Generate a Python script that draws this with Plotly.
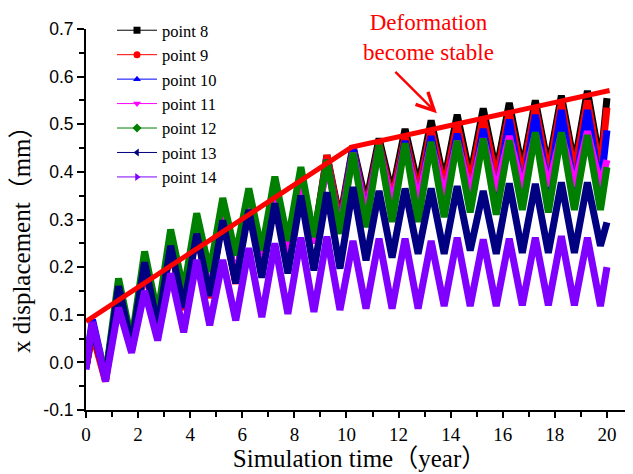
import plotly.graph_objects as go

# ---------------- data ----------------
TIME = [0, 0.25, 0.75, 1.25, 1.75, 2.25, 2.75, 3.25, 3.75, 4.25, 4.75,
        5.25, 5.75, 6.25, 6.75, 7.25, 7.75, 8.25, 8.75, 9.25, 9.75,
        10.25, 10.75, 11.25, 11.75, 12.25, 12.75, 13.25, 13.75, 14.25, 14.75,
        15.25, 15.75, 16.25, 16.75, 17.25, 17.75, 18.25, 18.75, 19.25, 19.75, 20]

POINT_8 = [-0.01, 0.065, -0.035, 0.15, 0.03, 0.20, 0.075, 0.245, 0.115, 0.28, 0.14,
           0.31, 0.17, 0.34, 0.185, 0.365, 0.22, 0.39, 0.26, 0.435, 0.30,
           0.455, 0.335, 0.47, 0.355, 0.49, 0.37, 0.508, 0.38, 0.52, 0.39,
           0.533, 0.40, 0.545, 0.405, 0.55, 0.41, 0.56, 0.415, 0.57, 0.415, 0.555]
POINT_9 = [-0.01, 0.06, -0.04, 0.15, 0.025, 0.205, 0.07, 0.245, 0.11, 0.28, 0.135,
           0.31, 0.165, 0.34, 0.18, 0.365, 0.21, 0.39, 0.25, 0.435, 0.29,
           0.45, 0.32, 0.46, 0.34, 0.475, 0.355, 0.49, 0.365, 0.50, 0.375,
           0.515, 0.385, 0.525, 0.39, 0.535, 0.395, 0.545, 0.40, 0.55, 0.40, 0.535]
POINT_10 = [0.0, 0.09, -0.03, 0.155, 0.035, 0.205, 0.08, 0.245, 0.12, 0.28, 0.14,
            0.31, 0.17, 0.335, 0.19, 0.36, 0.22, 0.385, 0.25, 0.425, 0.28,
            0.45, 0.31, 0.455, 0.325, 0.465, 0.335, 0.475, 0.34, 0.48, 0.345,
            0.49, 0.35, 0.51, 0.355, 0.52, 0.36, 0.53, 0.36, 0.53, 0.365, 0.487]
POINT_11 = [0.0, 0.08, -0.03, 0.155, 0.035, 0.205, 0.08, 0.245, 0.12, 0.28, 0.14,
            0.31, 0.17, 0.335, 0.19, 0.36, 0.22, 0.385, 0.25, 0.42, 0.28,
            0.44, 0.31, 0.45, 0.33, 0.455, 0.34, 0.46, 0.35, 0.465, 0.355,
            0.47, 0.36, 0.475, 0.365, 0.48, 0.37, 0.48, 0.37, 0.485, 0.37, 0.425]
POINT_12 = [0.0, 0.075, -0.03, 0.176, 0.045, 0.233, 0.10, 0.279, 0.15, 0.313, 0.19,
            0.345, 0.225, 0.365, 0.235, 0.39, 0.255, 0.41, 0.263, 0.425, 0.27,
            0.44, 0.284, 0.456, 0.295, 0.46, 0.295, 0.463, 0.305, 0.465, 0.315,
            0.47, 0.31, 0.466, 0.32, 0.483, 0.315, 0.483, 0.32, 0.477, 0.32, 0.41]
POINT_13 = [-0.01, 0.075, -0.035, 0.16, 0.035, 0.21, 0.075, 0.245, 0.115, 0.27, 0.14,
            0.298, 0.166, 0.32, 0.178, 0.334, 0.187, 0.35, 0.193, 0.357, 0.197,
            0.368, 0.214, 0.36, 0.22, 0.365, 0.228, 0.365, 0.228, 0.37, 0.235,
            0.36, 0.228, 0.376, 0.23, 0.375, 0.23, 0.378, 0.23, 0.378, 0.245, 0.294]
POINT_14 = [-0.015, 0.085, -0.04, 0.115, 0.02, 0.15, 0.046, 0.187, 0.063, 0.215, 0.078,
            0.215, 0.088, 0.24, 0.095, 0.25, 0.102, 0.262, 0.106, 0.264, 0.11,
            0.255, 0.113, 0.26, 0.113, 0.26, 0.113, 0.255, 0.118, 0.262, 0.118,
            0.258, 0.118, 0.26, 0.12, 0.262, 0.12, 0.265, 0.12, 0.262, 0.118, 0.20]

SERIES_NAMES = ["point 8", "point 9", "point 10", "point 11", "point 12", "point 13", "point 14"]
SERIES_VALUES = [POINT_8, POINT_9, POINT_10, POINT_11, POINT_12, POINT_13, POINT_14]

TREND_X = [0, 10.2, 20.1]
TREND_Y = [0.086, 0.452, 0.571]

X_TICKS = [0, 2, 4, 6, 8, 10, 12, 14, 16, 18, 20]
X_TICK_LABELS = ["0", "2", "4", "6", "8", "10", "12", "14", "16", "18", "20"]
Y_TICKS = [-0.1, 0.0, 0.1, 0.2, 0.3, 0.4, 0.5, 0.6, 0.7]
Y_TICK_LABELS = ["-0.1", "0.0", "0.1", "0.2", "0.3", "0.4", "0.5", "0.6", "0.7"]

# ---------------- styles ----------------
COLORS = ["#000000", "#ff0000", "#0000ff", "#ff00ff", "#008000", "#000080", "#8000ff"]
SYMBOLS = ["square", "circle", "triangle-up", "triangle-down", "diamond",
           "triangle-left", "triangle-right"]

SERIF = "Liberation Serif, Times New Roman, Noto Sans CJK SC, serif"
SANS = "Liberation Sans, Arial, sans-serif"

# the page body adds an 8px margin; compensate so the plot area lands at
# screen pixels left=86, top=29, width=547, height=381
PAGE_PAD = 8
FIG_W, FIG_H = 633 - PAGE_PAD, 474 - PAGE_PAD
M_L, M_T, M_B, M_R = 86 - PAGE_PAD, 29 - PAGE_PAD, 64, 0
PLOT_W = FIG_W - M_L - M_R
PLOT_H = FIG_H - M_T - M_B


def paper_x(px):
    return (px - 86) / PLOT_W


def paper_y(py):
    return (29 + PLOT_H - py) / PLOT_H


fig = go.Figure()

for name, vals, col in zip(SERIES_NAMES, SERIES_VALUES, COLORS):
    fig.add_trace(go.Scatter(
        x=TIME, y=vals, mode="lines", name=name, showlegend=False,
        line=dict(color=col, width=7), hoverinfo="skip",
    ))

# legend entries (thin line + marker, like the original legend)
for name, col, sym in zip(SERIES_NAMES, COLORS, SYMBOLS):
    fig.add_trace(go.Scatter(
        x=[None], y=[None], mode="lines+markers", name=name,
        line=dict(color=col, width=1),
        marker=dict(color=col, symbol=sym, size=7),
    ))

fig.add_trace(go.Scatter(
    x=TREND_X, y=TREND_Y, mode="lines", showlegend=False,
    line=dict(color="#ff0000", width=5), hoverinfo="skip",
))

fig.add_annotation(
    x=13.13, y=0.682, xref="x", yref="y",
    text="Deformation<br>become stable", showarrow=False,
    font=dict(family=SERIF, size=23, color="#ff0000"),
)
fig.add_annotation(
    x=13.47, y=0.523, ax=11.82, ay=0.613, xref="x", yref="y", axref="x", ayref="y",
    text="", showarrow=True, arrowhead=5, arrowsize=1.5, arrowwidth=2.3,
    arrowcolor="#ff0000",
)
fig.add_annotation(
    x=paper_x(22), y=paper_y(233), xref="paper", yref="paper",
    xanchor="center", yanchor="middle",
    text="x displacement（mm）", showarrow=False, textangle=-90,
    font=dict(family=SERIF, size=25, color="#000000"),
)

fig.update_layout(
    width=FIG_W, height=FIG_H,
    margin=dict(l=M_L, r=M_R, t=M_T, b=M_B, autoexpand=False),
    paper_bgcolor="white", plot_bgcolor="white",
    showlegend=True,
    legend=dict(
        x=paper_x(112), y=paper_y(13), xanchor="left", yanchor="top",
        bgcolor="rgba(0,0,0,0)", borderwidth=0,
        font=dict(family=SERIF, size=16.5, color="#000000"),
        tracegroupgap=0, itemwidth=40,
    ),
)

fig.update_xaxes(
    range=[0, 21], showgrid=False, zeroline=False,
    showline=True, linecolor="black", linewidth=2,
    ticks="outside", ticklen=6, tickwidth=1.5, tickcolor="black",
    tickvals=X_TICKS, ticktext=X_TICK_LABELS,
    tickfont=dict(family=SERIF, size=19, color="black"),
    minor=dict(ticks="outside", dtick=1, ticklen=5, tickwidth=1.5, tickcolor="black"),
    title=dict(text="Simulation time（year）", standoff=5,
               font=dict(family=SERIF, size=25, color="black")),
)
fig.update_yaxes(
    range=[-0.1, 0.7], showgrid=False, zeroline=False,
    showline=True, linecolor="black", linewidth=2,
    ticks="outside", ticklen=7, tickwidth=1.5, tickcolor="black",
    tickvals=Y_TICKS, ticktext=Y_TICK_LABELS,
    tickfont=dict(family=SANS, size=17.5, color="black"),
    minor=dict(ticks="outside", dtick=0.05, ticklen=5, tickwidth=1.5, tickcolor="black"),
)

fig.write_html("out.html")
